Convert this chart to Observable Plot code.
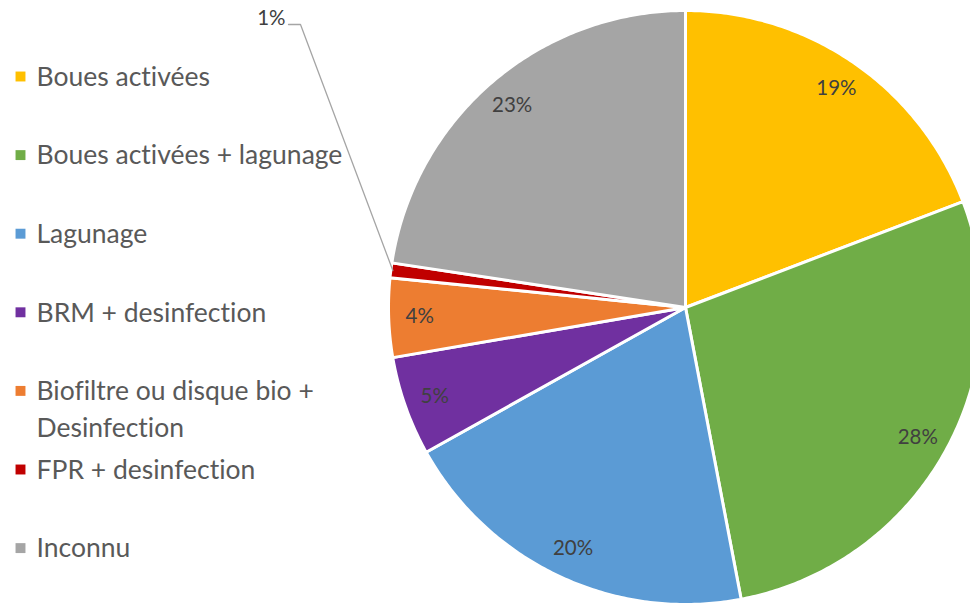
<!DOCTYPE html>
<html>
<head>
<meta charset="utf-8">
<script src="https://cdn.jsdelivr.net/npm/d3@7"></script>
<script src="https://cdn.jsdelivr.net/npm/@observablehq/plot@0.6"></script>
<style>
  html, body { margin: 0; padding: 0; background: #fff; }
  #chart svg { display: block; }
  #chart svg text { font-variant-ligatures: none; }
</style>
</head>
<body>
<div id="chart"></div>
<script>
// ---- data ----
const categories = [
  "Boues activées",
  "Boues activées + lagunage",
  "Lagunage",
  "BRM + desinfection",
  "Biofiltre ou disque bio +\nDesinfection",
  "FPR + desinfection",
  "Inconnu"
];
const shares = [19.2, 27.8, 19.9, 5.4, 4.3, 0.8, 22.6];
const colors = ["#FFC000", "#70AD47", "#5B9BD5", "#7030A0", "#ED7D31", "#C00000", "#A5A5A5"];
const outsideLabel = ["FPR + desinfection"];

// ---- layout ----
const W = 970, H = 603;
const CX = 685, CY = 307, R = 297;
const labelR = 266;
const total = d3.sum(shares);

// pie angles (clockwise from 12 o'clock)
const pie = d3.pie().sort(null).value(d => d)(shares);
const slices = categories.map((c, i) => ({
  cat: c, share: shares[i],
  a0: pie[i].startAngle, a1: pie[i].endAngle,
  mid: (pie[i].startAngle + pie[i].endAngle) / 2,
  pct: Math.round(shares[i] / total * 100) + "%"
}));

const polyPts = [];
for (const s of slices) {
  polyPts.push({cat: s.cat, x: 0, y: 0});
  const n = Math.max(4, Math.ceil((s.a1 - s.a0) / 0.01));
  for (let k = 0; k <= n; k++) {
    const a = s.a0 + (s.a1 - s.a0) * k / n;
    polyPts.push({cat: s.cat, x: R * Math.sin(a), y: R * Math.cos(a)});
  }
  polyPts.push({cat: s.cat, x: 0, y: 0});
}

const inside = slices.filter(s => !outsideLabel.includes(s.cat)).map(s => ({
  text: s.pct, x: labelR * Math.sin(s.mid), y: labelR * Math.cos(s.mid)
}));

// outside label with leader line
const out = slices.filter(s => outsideLabel.includes(s.cat));
const leader = [];
const outText = [];
for (const s of out) {
  const p0 = {x: (R - 2) * Math.sin(s.mid), y: (R - 2) * Math.cos(s.mid)};
  const p1 = {x: -385, y: CY - 24};
  const p2 = {x: -397, y: CY - 24};
  leader.push({...p0, g: s.cat}, {...p1, g: s.cat}, {...p2, g: s.cat});
  outText.push({text: s.pct, x: -400, y: CY - 18});
}

// legend (pixel positions converted into data units)
const legend = categories.map((c, i) => ({
  cat: c,
  sx: 20 - CX, tx: 36 - CX,
  y: CY - (76 + i * 78.6)
}));

const chart = Plot.plot({
  width: W, height: H,
  margin: 0,
  x: {domain: [-CX, W - CX], axis: null},
  y: {domain: [-(H - CY), CY], axis: null},
  color: {domain: categories, range: colors},
  style: {fontFamily: "Lato, 'Open Sans', sans-serif", background: "#fff"},
  marks: [
    Plot.line(polyPts, {x: "x", y: "y", z: "cat", fill: "cat", stroke: "#fff", strokeWidth: 3, strokeLinejoin: "round"}),
    Plot.text(inside, {x: "x", y: "y", text: "text", fill: "#404040", fontSize: 20.5}),
    Plot.line(leader, {x: "x", y: "y", z: "g", stroke: "#A5A5A5", strokeWidth: 1.3}),
    Plot.text(outText, {x: "x", y: "y", text: "text", fill: "#404040", fontSize: 20.5, textAnchor: "end"}),
    Plot.dot(legend, {x: "sx", y: "y", fill: "cat", symbol: "square", r: 5.6, stroke: null}),
    Plot.text(legend, {x: "tx", y: "y", text: "cat", fill: "#595959", fontSize: 26.5, textAnchor: "start", lineAnchor: "top", dy: -17, lineHeight: 1.4})
  ]
});
document.getElementById("chart").appendChild(chart);
</script>
</body>
</html>
